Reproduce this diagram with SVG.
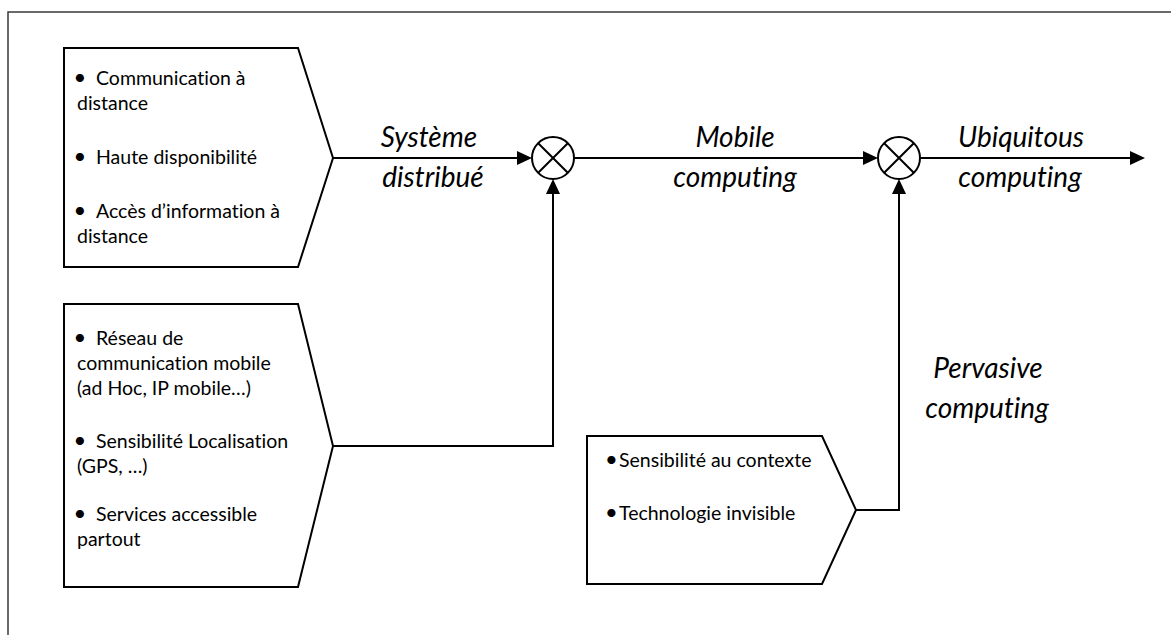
<svg xmlns="http://www.w3.org/2000/svg" width="1171" height="635" viewBox="0 0 1171 635">
<style>
.frame{fill:none;stroke:#3a3a3a;stroke-width:1.5}
.box{fill:#fff;stroke:#000;stroke-width:2;stroke-linejoin:miter}
.t{font-family:Lato,"Liberation Sans",sans-serif;font-size:19.5px;fill:#000;font-variant-ligatures:none}
.b{font-family:Lato,"Liberation Sans",sans-serif;font-size:22px;fill:#000;text-anchor:middle}
.lab{font-family:Lato,"Liberation Sans",sans-serif;font-style:italic;font-size:28px;fill:#000;text-anchor:middle;font-variant-ligatures:none}
.ln{fill:none;stroke:#000;stroke-width:2}
.sum{fill:#fff;stroke:#000;stroke-width:2}
</style>
<defs>
<marker id="ah" viewBox="0 0 15 14" refX="13" refY="7" markerWidth="15" markerHeight="14" markerUnits="userSpaceOnUse" orient="auto">
<path d="M0,0 L15,7 L0,14 z" fill="#000"/>
</marker>
</defs>
<rect class="frame" x="8" y="12" width="1200" height="700"/>
<g id="box1">
<polygon class="box" points="64,48 298,48 333,158 298,267 64,267"/>
<text class="b" x="80" y="85">•</text><text class="t" x="96" y="85">Communication à</text>
<text class="t" x="77" y="110">distance</text>
<text class="b" x="80" y="164">•</text><text class="t" x="96" y="164">Haute disponibilité</text>
<text class="b" x="80" y="218">•</text><text class="t" x="96" y="218">Accès d’information à</text>
<text class="t" x="77" y="243">distance</text>
</g>
<g id="box2">
<polygon class="box" points="64,304 298,304 333,446 298,587 64,587"/>
<text class="b" x="80" y="345">•</text><text class="t" x="96" y="345">Réseau de</text>
<text class="t" x="77" y="370">communication mobile</text>
<text class="t" x="77" y="395">(ad Hoc, IP mobile…)</text>
<text class="b" x="80" y="448">•</text><text class="t" x="96" y="448">Sensibilité Localisation</text>
<text class="t" x="77" y="473">(GPS, …)</text>
<text class="b" x="80" y="521">•</text><text class="t" x="96" y="521">Services accessible</text>
<text class="t" x="77" y="546">partout</text>
</g>
<g id="box3">
<polygon class="box" points="587,436 822,436 856,510 822,584 587,584"/>
<text class="b" x="611.5" y="467">•</text><text class="t" x="619" y="467">Sensibilité au contexte</text>
<text class="b" x="611.5" y="520">•</text><text class="t" x="619" y="520">Technologie invisible</text>
</g>
<g id="sum1">
<circle class="sum" cx="553" cy="158" r="21"/>
<path class="ln" d="M538.2,143.2 L567.8,172.8 M567.8,143.2 L538.2,172.8"/>
</g>
<g id="sum2">
<circle class="sum" cx="899" cy="158" r="21"/>
<path class="ln" d="M884.2,143.2 L913.8,172.8 M913.8,143.2 L884.2,172.8"/>
</g>
<g id="connectors">
<path class="ln" d="M333,158 L530,158" marker-end="url(#ah)"/>
<path class="ln" d="M333,446 L553,446 L553,181" marker-end="url(#ah)"/>
<path class="ln" d="M574,158 L876,158" marker-end="url(#ah)"/>
<path class="ln" d="M856,510 L899,510 L899,181" marker-end="url(#ah)"/>
<path class="ln" d="M920,158 L1143,158" marker-end="url(#ah)"/>
</g>
<g id="labels">
<text class="lab" x="429" y="147">Système</text>
<text class="lab" x="433" y="187">distribué</text>
<text class="lab" x="735" y="147">Mobile</text>
<text class="lab" x="735" y="187">computing</text>
<text class="lab" x="1021" y="147">Ubiquitous</text>
<text class="lab" x="1020" y="187">computing</text>
<text class="lab" x="988" y="378">Pervasive</text>
<text class="lab" x="987" y="418">computing</text>
</g>
</svg>
